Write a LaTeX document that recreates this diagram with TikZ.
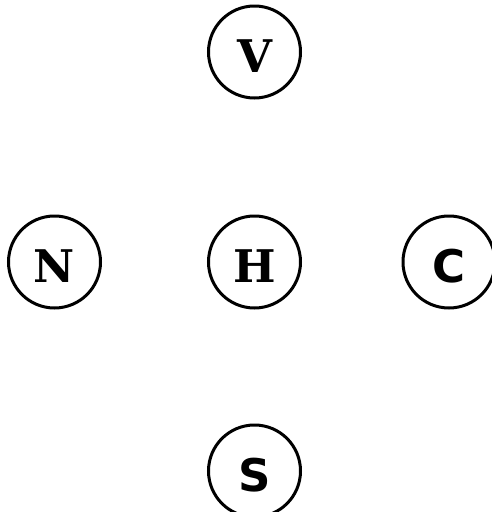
\documentclass[tikz,border=0pt]{standalone}
\usepackage{fontspec}
\newfontfamily\lettfont{DejaVu Serif}
\newfontfamily\lettsans{DejaVu Sans}
\begin{document}
\begin{tikzpicture}[x=1pt,y=-1pt,
  vert/.style={circle,draw=black,line width=3pt,minimum size=92pt,inner sep=0pt,
    text height=40.5pt,text depth=0pt,
    font=\lettfont\bfseries\fontsize{45}{45}\selectfont},
  vertsans/.style={vert,font=\lettsans\bfseries\fontsize{45}{45}\selectfont}]
\useasboundingbox (0,0) rectangle (492,512);
\node[vert] (V) at (254.5,52) {V};
\node[vert] (N) at (54.5,262) {N};
\node[vert] (H) at (254.5,262) {H};
\node[vertsans] (C) at (449,262) {C};
\node[vertsans] (S) at (254.5,471) {S};
\end{tikzpicture}
\end{document}
